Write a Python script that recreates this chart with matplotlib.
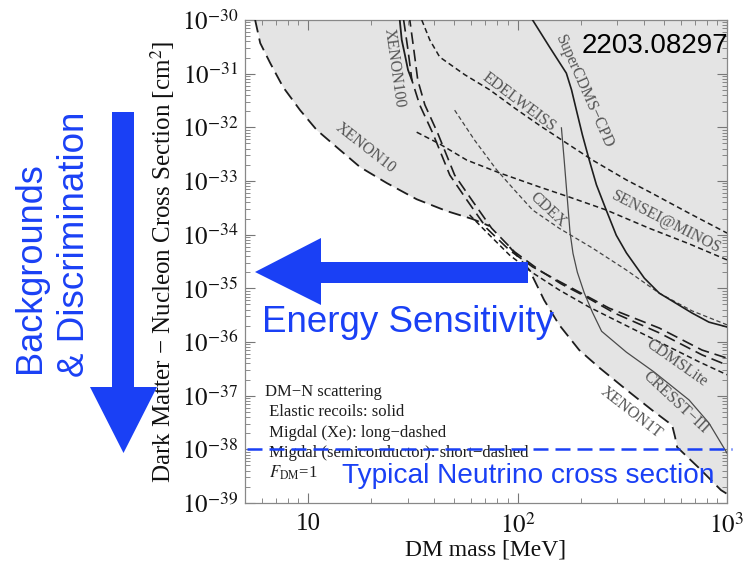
import numpy as np
import matplotlib
matplotlib.use("Agg")
import matplotlib.pyplot as plt
from matplotlib.patches import Polygon
from matplotlib.ticker import LogLocator, NullFormatter, FixedLocator, FixedFormatter

plt.rcParams["mathtext.fontset"] = "stix"
plt.rcParams["font.family"] = ["Liberation Serif", "DejaVu Serif"]

# ---------------- exclusion limits: DM mass [MeV], log10(sigma / cm^2) ----------------
xenon10_mass = [5.59, 5.91, 6.59, 7.60, 9.16, 11.0, 13.7, 17.7, 23.8, 33.0, 45.9, 61.1, 73.6]
xenon10_logsig = [-30.00, -30.43, -30.80, -31.25, -31.68, -32.05, -32.37, -32.74, -33.04,
                  -33.34, -33.56, -33.71, -33.84]

xenon1t_mass = [91.6, 114, 134, 158, 197, 246, 331, 439, 547, 565, 578, 736, 936, 1000]
xenon1t_logsig = [-34.23, -34.66, -35.22, -35.68, -36.15, -36.48, -36.89, -37.27, -37.55,
                  -37.77, -37.96, -38.35, -38.76, -38.83]

xenon100_mass = [27.4, 28.0, 29.0, 30.0, 31.3]
xenon100_logsig = [-30.00, -30.37, -30.65, -30.93, -31.12]

xe100_migdal_a_mass = [28.6, 30.0, 31.3, 34.1, 39.4, 47.5, 57.2, 71.2, 91.6, 118, 153, 197,
                       274, 475, 760, 1000]
xe100_migdal_a_logsig = [-30.00, -30.56, -31.12, -31.58, -32.11, -32.89, -33.35, -33.88,
                         -34.29, -34.60, -34.84, -35.07, -35.37, -35.74, -36.15, -36.30]

xe100_migdal_b_mass = [30.6, 32.0, 33.4, 36.1, 41.6, 50.1, 60.4, 75.2, 96.8, 127, 162, 208,
                       290, 475, 760, 1000]
xe100_migdal_b_logsig = [-30.00, -30.56, -31.12, -31.58, -32.11, -32.89, -33.35, -33.88,
                         -34.32, -34.66, -34.92, -35.14, -35.46, -35.83, -36.24, -36.43]

cdmslite_mass = [59.0, 73.6, 91.6, 118, 158, 220, 306, 475, 736, 1000]
cdmslite_logsig = [-33.63, -34.01, -34.38, -34.71, -35.03, -35.35, -35.63, -36.00, -36.37,
                   -36.61]

edelweiss_mass = [34.9, 38.1, 42.5, 56.0, 73.6, 96.8, 127, 177, 228, 331, 425, 659, 1000]
edelweiss_logsig = [-30.00, -30.37, -30.69, -31.02, -31.30, -31.64, -31.96, -32.33, -32.61,
                    -32.98, -33.20, -33.60, -33.97]

sensei_mass = [33.0, 42.5, 57.2, 82.1, 127, 177, 265, 425, 659, 1000]
sensei_logsig = [-32.09, -32.31, -32.61, -32.85, -33.11, -33.30, -33.54, -33.88, -34.17,
                 -34.47]

cdex_mass = [50.1, 62.4, 79.4, 96.8, 118, 158, 228, 331, 475, 681, 1000]
cdex_logsig = [-31.68, -32.24, -32.79, -33.17, -33.54, -33.88, -34.25, -34.66, -35.09,
               -35.42, -35.68]

supercdms_mass = [118, 142, 171, 181, 191, 204, 220, 238, 265, 296, 331, 403, 475, 681, 820,
                  1000]
supercdms_logsig = [-30.00, -30.50, -30.99, -31.30, -31.68, -32.14, -32.61, -33.07, -33.54,
                    -34.01, -34.34, -34.81, -35.09, -35.46, -35.63, -35.72]

cresst_mass = [162, 167, 173, 178, 184, 193, 208, 228, 252, 331, 449, 659, 820, 1000]
cresst_logsig = [-32.01, -32.61, -33.35, -33.95, -34.35, -34.70, -35.08, -35.45, -35.80,
                 -36.19, -36.56, -37.08, -37.51, -38.07]

neutrino_sigma = 1e-38

y_tick_exponents = [-39, -38, -37, -36, -35, -34, -33, -32, -31, -30]
x_ticks = [10, 100, 1000]
x_tick_labels = ["10", r"$10^{2}$", r"$10^{3}$"]

curve_labels = ["XENON100", "XENON10", "EDELWEISS", "SuperCDMS\u2212CPD", "CDEX",
                "SENSEI@MINOS", "CDMSLite", "CRESST\u2212III", "XENON1T"]
label_mass = [25.9, 18.7, 102, 208, 139, 513, 578, 571, 349]
label_logsig = [-30.89, -32.39, -31.53, -31.34, -33.54, -33.76, -36.39, -37.12, -37.32]
label_angle = [-82, -38, -37, -66, -43, -27, -35, -43, -38]

legend_lines = ["DM\u2212N scattering", " Elastic recoils: solid",
                " Migdal (Xe): long\u2212dashed", " Migdal (semiconductor): short\u2212dashed",
                r" $F_{\mathrm{DM}}$=1"]

BLUE = "#1a40f5"
GREY_FILL = "#e4e4e4"
INK = "#1e1e1e"

fig = plt.figure(figsize=(7.46, 5.68), dpi=100)
ax = fig.add_axes([245 / 746, 65 / 568, 482 / 746, 483 / 568])
ax.set_xscale("log")
ax.set_yscale("log")
ax.set_xlim(5, 1000)
ax.set_ylim(1e-39, 1e-30)


def sig(logs):
    return 10.0 ** np.asarray(logs)


# excluded region above the lowest limits
env_mass = np.array(xenon10_mass + xenon1t_mass)
env_sig = sig(xenon10_logsig + xenon1t_logsig)
ax.fill_between(env_mass, env_sig, 1e-30, color=GREY_FILL, lw=0, zorder=1)

long_dash = (0, (7, 3.5))
short_dash = (0, (3.5, 2.2))

ax.plot(xenon10_mass, sig(xenon10_logsig), color=INK, lw=1.3, ls=long_dash, zorder=3)
ax.plot(xenon1t_mass, sig(xenon1t_logsig), color=INK, lw=1.3, ls=long_dash, zorder=3)
ax.plot(xenon100_mass, sig(xenon100_logsig), color=INK, lw=1.3, zorder=3)
ax.plot(xe100_migdal_a_mass, sig(xe100_migdal_a_logsig), color=INK, lw=1.2, ls=long_dash, zorder=3)
ax.plot(xe100_migdal_b_mass, sig(xe100_migdal_b_logsig), color=INK, lw=1.2, ls=(3, (7, 3.5)), zorder=3)
ax.plot(cdmslite_mass, sig(cdmslite_logsig), color=INK, lw=1.1, ls=short_dash, zorder=3)
ax.plot(edelweiss_mass, sig(edelweiss_logsig), color=INK, lw=1.1, ls=short_dash, zorder=3)
ax.plot(sensei_mass, sig(sensei_logsig), color=INK, lw=1.1, ls=short_dash, zorder=3)
ax.plot(cdex_mass, sig(cdex_logsig), color="#444444", lw=0.9, ls=short_dash, zorder=3)
ax.plot(supercdms_mass, sig(supercdms_logsig), color=INK, lw=1.2, zorder=3)
ax.plot(cresst_mass, sig(cresst_logsig), color="#4a4a4a", lw=0.9, zorder=3)

for txt, m, ls_, ang in zip(curve_labels, label_mass, label_logsig, label_angle):
    ax.text(m, 10.0 ** ls_, txt, rotation=ang, rotation_mode="anchor", ha="center",
            va="center", fontsize=11.5, color="#555555", zorder=4)

legend_y = [0.2298, 0.1884, 0.1449, 0.1035, 0.0621]
for txt, yy in zip(legend_lines, legend_y):
    ax.text(0.0415, yy, txt, transform=ax.transAxes, ha="left", va="center",
            fontsize=12, color=INK, zorder=4)

# typical neutrino cross section
ax.plot([5.12, 1057], [neutrino_sigma, neutrino_sigma], color=BLUE, lw=1.8,
        ls=(0, (6, 2.8)), clip_on=False, zorder=6)

# axes styling
y_ticks = [10.0 ** e for e in y_tick_exponents]
ax.yaxis.set_major_locator(FixedLocator(y_ticks))
ax.yaxis.set_major_formatter(FixedFormatter([r"$10^{%d}$" % e for e in y_tick_exponents]))
ax.yaxis.set_minor_locator(LogLocator(base=10, subs=np.arange(2, 10), numticks=20))
ax.yaxis.set_minor_formatter(NullFormatter())
ax.xaxis.set_major_locator(FixedLocator(x_ticks))
ax.xaxis.set_major_formatter(FixedFormatter(x_tick_labels))
ax.xaxis.set_minor_locator(LogLocator(base=10, subs=np.arange(2, 10), numticks=20))
ax.xaxis.set_minor_formatter(NullFormatter())
ax.tick_params(which="both", direction="in", top=True, right=True, colors="#777777",
               labelcolor="#111111", labelsize=18)
ax.tick_params(which="major", length=7, width=0.8, pad=5)
ax.tick_params(which="minor", length=3.5, width=0.6)
ax.tick_params(axis="x", which="major", pad=7)
for s in ax.spines.values():
    s.set_color("#888888")
    s.set_linewidth(0.9)

ax.set_ylabel("Dark Matter \u2212 Nucleon Cross Section [cm$^2$]", fontsize=18, color="#111111")
ax.yaxis.set_label_coords(-0.141, 0.5)
ax.set_xlabel("DM mass [MeV]", fontsize=17, color="#111111")
ax.xaxis.set_label_coords(0.5, -0.075)

# annotations in figure inches
tr = fig.dpi_scale_trans
H = 5.68


def px(points):
    return [(x / 100.0, H - y / 100.0) for x, y in points]


down_arrow = px([(112, 112), (134, 112), (134, 387), (157, 387), (123.5, 453), (90, 387),
                 (112, 387)])
left_arrow = px([(528, 262), (528, 283), (321, 283), (321, 305), (255, 272), (321, 238),
                 (321, 262)])
for verts in (down_arrow, left_arrow):
    fig.patches.append(Polygon(verts, closed=True, facecolor=BLUE, edgecolor="none",
                               transform=tr, zorder=10))

sans = ["Liberation Sans", "DejaVu Sans"]
fig.text(2.62, H - 3.32, "Energy Sensitivity", transform=tr, fontsize=26.5, color=BLUE,
         family=sans, ha="left", va="baseline", zorder=11)
fig.text(3.42, H - 4.83, "Typical Neutrino cross section", transform=tr, fontsize=20.2,
         color=BLUE, family=sans, ha="left", va="baseline", zorder=11)
fig.text(0.40, H - 3.73, "Backgrounds", transform=tr, fontsize=26, color=BLUE, family=sans,
         rotation=90, rotation_mode="anchor", ha="left", va="baseline", zorder=11)
fig.text(0.845, H - 3.77, "& Discrimination", transform=tr, fontsize=26.5, color=BLUE,
         family=sans, rotation=90, rotation_mode="anchor", ha="left", va="baseline", zorder=11)
fig.text(5.82, H - 0.53, "2203.08297", transform=tr, fontsize=20, color="black", family=sans,
         ha="left", va="baseline", zorder=11)

fig.savefig("out.png", dpi=100)
